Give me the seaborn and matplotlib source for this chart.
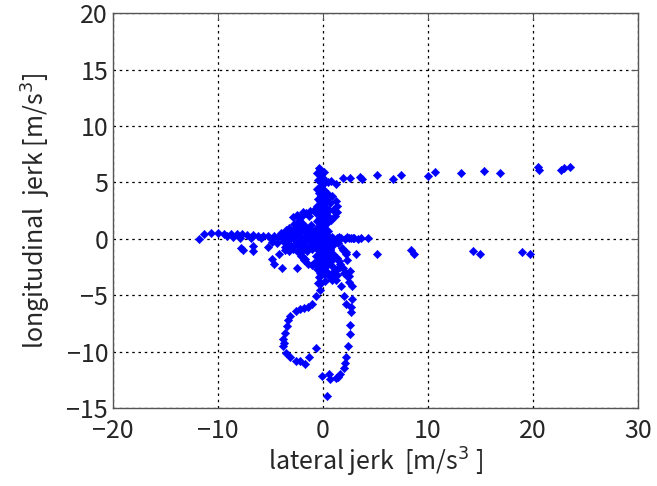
import numpy as np
import pandas as pd
import seaborn as sns
import matplotlib.pyplot as plt

# horizontal arm, left side (y ~ 0.4)
left_x = [-11.8, -11.3, -10.7, -10.0, -9.4, -8.8, -8.2, -7.7, -7.2, -6.7, -6.2, -5.7,
          -5.2, -4.7, -4.3, -3.9, -7.9, -6.9, -5.9, -4.9, -8.6, -9.1, -3.5, -3.1]
left_y = [0.0, 0.45, 0.5, 0.5, 0.45, 0.45, 0.4, 0.4, 0.35, 0.35, 0.3, 0.3,
          0.3, 0.25, 0.2, 0.15, 0.1, 0.05, 0.1, 0.0, 0.2, 0.3, 0.3, 0.2]

# scattered points below the left arm
low_left_x = [-7.8, -7.6, -6.7, -6.7, -5.2, -4.9, -4.9, -4.7, -3.9, -4.2, -3.6, -2.5, -3.0, -2.0]
low_left_y = [-0.8, -1.0, -0.65, -1.1, -0.7, -0.3, -1.8, -2.2, -2.6, -1.3, -1.0, -2.6, -0.6, -1.5]

# vertical spine around x = 0
spine_x = [-0.4, -0.3, -0.2, 0.0, -0.3, -0.1, -0.2, 0.1, -0.4, -0.2, 0.0, -0.3, 0.2, -0.1,
           -0.5, -0.2, 0.1, -0.3, 0.0, -0.4, 0.2, -0.1, -0.3, 0.1, -0.5, 0.0, 0.3, -0.2,
           -0.4, 0.1, -0.1, 0.3, -0.6, 0.0, 0.2, -0.3, 0.4, -0.1, -0.5, 0.2, 0.0, -0.3,
           0.3, -0.2, 0.1, -0.4, 0.5, 0.0, -0.2, 0.2, -0.1, 0.3, -0.3, 0.1, 0.4, -0.2,
           -0.6, 0.1, -0.5, 0.2, -0.6, 0.1, -0.5, 0.2, -0.6, 0.3, -0.7, 0.3, -0.6, 0.4,
           -0.7, 0.5, -0.8, 0.4, -0.7, 0.5, -0.6, 0.4, -0.7, 0.5, -0.5, 0.4, -0.6, 0.3,
           -0.4, 0.2, -0.2, 0.6]
spine_y = [6.3, 6.0, 5.7, 5.4, 5.1, 4.8, 4.5, 4.3, 4.1, 3.8, 3.6, 3.4, 3.2, 3.0,
           2.8, 2.6, 2.4, 2.2, 2.0, 1.8, 1.7, 1.5, 1.3, 1.2, 1.0, 0.9, 0.8, 0.6,
           0.5, 0.4, 0.2, 0.1, 0.0, -0.1, -0.3, -0.4, -0.5, -0.7, -0.8, -0.9, -1.1, -1.3,
           -1.4, -1.6, -1.8, -1.9, -2.0, -2.2, -2.4, -2.5, -2.7, -2.8, -3.0, -3.1, 3.9, 4.7,
           5.8, 5.9, 5.2, 5.0, 4.4, 4.2, 3.5, 3.3, 2.9, 2.7, 2.3, 2.1, 1.6, 1.4,
           0.9, 0.7, 0.3, 0.2, -0.2, -0.3, -0.9, -1.0, -1.5, -1.6, -2.1, -2.3, -2.7, -2.9,
           -3.4, -3.7, -3.9, -3.3]

# small loop right of the spine and the branch at the top
loop_x = [0.5, 0.9, 1.2, 1.3, 1.3, 1.1, 0.8, 0.5, 0.6, 0.7, 0.4, 1.0, 0.45, 1.2, 0.8]
loop_y = [4.0, 3.8, 3.4, 2.9, 2.4, 2.0, 1.7, 2.0, 2.6, 3.2, 3.5, 2.6, 5.0, 4.9, 5.1]

# dense central blob
blob_x = [-3.3, -2.9, -2.6, -2.3, -2.0, -1.7, -1.4, -1.1, -0.8, -3.1, -2.7, -2.4, -2.1,
          -1.8, -1.5, -1.2, -0.9, -2.8, -2.5, -2.2, -1.9, -1.6, -1.3, -1.0, -0.7, -2.6,
          -2.2, -1.8, -1.4, -1.0, 0.5, 0.9, 1.3, 1.7, 2.1, 2.5, 2.9, 3.3, 0.6, 1.0, 1.4,
          1.8, 2.2, 0.7, 1.1, 1.5, 0.5, 0.9, 1.3, -1.9, -2.3, -2.8, -3.2, -1.3, -0.5,
          -2.1, -1.7, -0.9, 1.6, 2.0, 0.8, 1.2,
          -4.0, -3.8, -3.5, -3.3, -3.0, -2.9, -2.7, -2.5, -2.4, -2.2, -2.0, -1.9, -1.7,
          -1.5, -1.4, -1.2, -1.1, -0.9, -4.4, -3.6, -3.2, -2.0, -1.0,
          -2.9, -2.5, -2.0, -1.6, -1.2, -0.9,
          -2.3, -2.1, -1.8, -1.4, -1.0, -0.7]
blob_y = [0.5, 0.7, 0.9, 1.0, 0.8, 0.6, 0.5, 0.4, 0.3, 0.0, 0.2, -0.1, 0.1,
          -0.2, 0.0, -0.3, 0.1, -0.5, -0.3, -0.7, -0.5, -0.8, -0.6, -0.9, -0.4, 1.2,
          1.4, 1.1, 0.9, 0.7, 0.3, 0.2, 0.1, 0.1, 0.0, 0.1, 0.05, 0.0, -0.3, -0.5, -0.4,
          -0.8, -1.2, -1.0, -1.6, -2.0, -1.9, -2.4, -2.7, 2.4, 1.7, 1.3, 1.0, 2.0, 1.6,
          -1.2, -1.8, -2.1, -2.5, -3.0, -3.4, -3.6,
          0.5, -0.2, 0.8, -0.4, 0.4, -0.9, -0.1, 0.6, -1.2, 0.3, -0.4, 1.3, 0.2,
          -1.1, 0.7, -0.2, 1.2, -0.6, -0.4, -0.7, -1.1, 0.9, 0.0,
          1.9, 2.1, 2.0, 2.3, 2.5, 2.6,
          -1.0, -1.5, -1.9, -2.2, -2.3, -2.1]

# points right of the spine, below zero
right_core_x = [0.7, 1.0, 1.3, 1.6, 1.9, 2.2, 2.5, 0.8, 1.1, 1.3, 0.9, 1.9, 2.3, 2.6, 2.2, 0.6,
                0.6, 1.0, 1.5, 2.3]
right_core_y = [-0.9, -1.3, -1.7, -2.2, -2.6, -3.0, -3.3, -2.0, -2.8, -3.2, -3.0, -1.0, -1.9,
                -2.8, -1.3, -1.5, 0.0, -0.1, 0.2, 0.2]

# upper right arm (y ~ 5.5)
right_hi_x = [1.9, 2.6, 3.55, 3.7, 5.1, 6.7, 7.4, 10.0, 10.7, 13.1, 15.3, 16.9, 20.5, 20.6, 22.7, 23.0, 23.5]
right_hi_y = [5.4, 5.4, 5.5, 5.3, 5.7, 5.3, 5.7, 5.6, 5.9, 5.8, 6.0, 5.8, 6.4, 6.1, 6.1, 6.3, 6.4]

# right arm near y = 0 and y ~ -1.2
right_lo_x = [2.7, 3.0, 3.6, 4.3, 3.1, 5.1, 8.4, 8.7, 14.3, 15.0, 19.0, 19.7]
right_lo_y = [0.1, 0.1, 0.05, 0.05, -1.3, -1.3, -1.0, -1.3, -1.05, -1.3, -1.2, -1.35]

# lower left loop
loop_low_x = [-0.2, -0.5, -0.7, -1.0, -1.8, -2.6, -3.1, -3.4, -3.6, -3.8, -3.8, -3.5,
              -3.1, -2.6, -2.2, -1.7, -1.3, -0.7, -0.3, -1.4, -2.2, -3.3, -3.7]
loop_low_y = [-3.0, -3.9, -5.1, -5.8, -6.1, -6.4, -6.8, -7.7, -8.3, -8.9, -9.5, -10.1,
              -10.5, -10.8, -10.8, -11.1, -10.5, -9.7, -4.5, -6.0, -6.2, -7.2, -9.2]

# lower right branch
branch_x = [2.3, 2.8, 2.8, 2.7, 2.6, 2.6, 2.4, 2.2, 2.0, 1.6, 1.2, 0.7, 0.6, -0.1, 0.4,
            1.7, 2.0, 2.2, 0.9, 2.5, 2.7, 2.1, 1.4]
branch_y = [-3.3, -4.2, -5.35, -6.5, -7.6, -8.4, -9.5, -10.5, -11.4, -12.0, -12.3, -12.4,
            -12.0, -12.1, -13.9, -4.2, -5.1, -5.8, -3.6, -3.8, -6.0, -11.0, -12.2]

x = (left_x + low_left_x + spine_x + loop_x + blob_x + right_core_x + right_hi_x
     + right_lo_x + loop_low_x + branch_x)
y = (left_y + low_left_y + spine_y + loop_y + blob_y + right_core_y + right_hi_y
     + right_lo_y + loop_low_y + branch_y)
df = pd.DataFrame({"lateral": x, "longitudinal": y})

sns.set_style("white")
plt.rcParams['font.family'] = ['Noto Sans CJK JP', 'DejaVu Sans']

fig = plt.figure(figsize=(6.57, 4.86), dpi=100)
ax = fig.add_axes([0.172, 0.160, 0.799, 0.813])
sns.scatterplot(data=df, x="lateral", y="longitudinal", ax=ax, marker="D", s=18,
                color="#0000ff", edgecolor="#0000ff", linewidth=0.4)

ax.set_xlim(-20, 30)
ax.set_ylim(-15, 20)
ax.set_xticks(np.arange(-20, 31, 10))
ax.set_yticks(np.arange(-15, 21, 5))
ax.grid(True, color="black", linestyle=(0, (2, 3)), linewidth=0.9)
ax.tick_params(direction="in", top=True, right=True, labelsize=18, length=5, color="#555555")
ax.tick_params(axis="x", pad=7)
for s in ax.spines.values():
    s.set_color("#555555")
    s.set_linewidth(1.0)

ax.set_xlabel("lateral jerk  [m/s$^3$ ]", fontsize=18, labelpad=1)
ax.set_ylabel("longitudinal  jerk [m/s$^3$]", fontsize=18, labelpad=10)

fig.savefig("out.png", dpi=100)
